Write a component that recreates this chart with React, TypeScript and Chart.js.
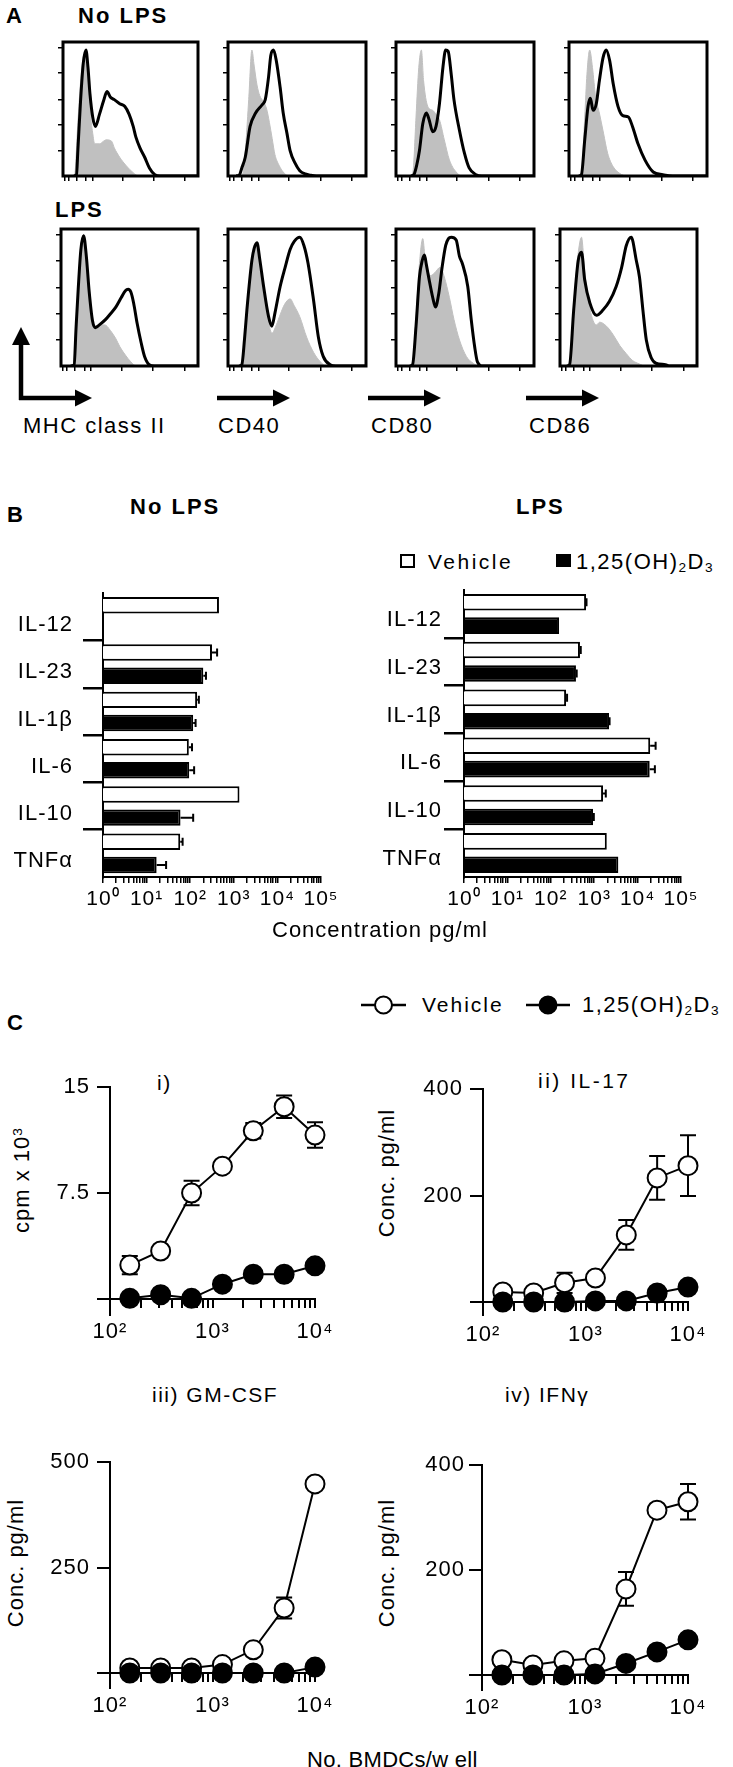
import React, { useEffect, useRef } from 'react';
import { Chart, registerables } from 'chart.js';

Chart.register(...registerables);

const FONT = "'Liberation Sans', Arial, Helvetica, sans-serif";
Chart.defaults.font.family = FONT;
Chart.defaults.color = '#000';
const GRAY = '#c0c0c0';

// ---------------- Panel A: flow cytometry histograms ----------------
// points are [fluorescence (display units 0-100), % of max]
const HIST_X_TICKS = [1, 4, 10, 17, 22, 44, 67, 90];
const HIST_Y_TICKS = [19, 38, 57, 77, 96];

const noLpsMhcLine = [[8,0],[10,1],[11,19],[13,56],[15,84],[17,94],[18.5,81],[20,61],[22,44],[24,37],[27,46],[30,56],[32.6,63],[35,59],[38,57],[42,54],[45.7,52],[49,46],[52,37],[54,29],[57,21],[60.5,14],[64,6],[68,1],[72,0],[100,0]];
const noLpsMhcIso = [[7,0],[8.6,1],[11,40],[13,70],[15,88],[17,94],[18.5,75],[20,50],[22,32],[23.5,24],[27,24],[30,26],[32,27],[36,26],[38,21],[42,14],[47,7.5],[52,2.5],[56,0],[100,0]];
const noLpsCd40Line = [[6,0],[8.4,1],[10,6],[12.5,14],[16,37],[20,47],[24.6,53],[27,57],[29.4,74],[31,90],[33,94],[35,86],[37.8,66],[40,47],[42.7,32],[45,19],[48.7,9.4],[52,4],[56,1.5],[60,0.5],[64,0],[100,0]];
const noLpsCd40Iso = [[9,0],[11,3],[13,25],[15,57],[17.3,94],[19,82],[21,68],[23,60],[26,55],[28,50],[30,40],[32,28],[34,16],[37,8],[40,3],[44,0],[100,0]];
const noLpsCd80Line = [[11,0],[13,1],[15,8],[17,19],[19.4,39],[22,47],[24,42],[26.6,33],[29,37],[31.5,54],[34,81],[36,94],[37.8,93],[40,76],[42,57],[46,34],[49.6,17],[53,6],[58,1],[62,0],[100,0]];
const noLpsCd80Iso = [[11,0],[12.5,5],[14.5,44],[16.5,81],[18.4,94],[20,71],[23,52],[26.6,49],[29,46],[31.5,42],[35,27],[38.7,12],[43.6,3],[48,0],[100,0]];
const noLpsCd86Line = [[7,0],[9,1],[11.4,27],[13.8,52],[15.5,58],[17.4,49],[19.8,54],[22,71],[24.6,88],[27,94],[29.5,86],[32,69],[35.5,52],[39,45],[43,44],[46,37],[50,24],[55,12],[61,3],[68,1],[75,0],[100,0]];
const noLpsCd86Iso = [[7,0],[9,1],[11.4,44],[13,76],[15,94],[17,81],[19.3,59],[22,47],[25,32],[28,17],[32,7],[36.7,2],[42,0],[100,0]];

const lpsMhcLine = [[7,0],[9.6,1],[11,28],[12.5,55],[14.5,85],[16.5,95],[18.5,80],[20.5,55],[23,33],[25,28],[28,30],[32.6,34],[36,38],[40,43],[44,50],[47,55],[49,56],[51,54],[53,46],[55.6,31],[58.5,17],[61,7],[64.4,1],[68,0],[100,0]];
const lpsMhcIso = [[7,0],[9,1],[11,30],[12.5,58],[14.5,87],[16.5,96],[18.5,78],[20.5,52],[23,32],[25,29],[28,30],[32,30],[36,26],[40,20],[43,14],[47,8],[51,3],[55,0],[100,0]];
const lpsCd40Line = [[8,0],[10,1],[12,20],[13.7,41],[17.3,77],[19,86],[21,90],[23,78],[25.8,58],[29.4,36],[31.8,29],[34,38.6],[37.8,58],[41.4,72],[45,85],[48,91],[52,94],[55,88],[58,75],[62,48],[65.5,21],[69,7],[74,1],[78,0],[100,0]];
const lpsCd40Iso = [[8,0],[10,2],[12,22],[13.7,43],[17.3,79],[19,88],[21,90],[23,76],[25.8,54],[29.4,32],[31.8,24],[35,30],[38,38],[41,45],[45,49],[48,44],[52,36],[57,21],[62,10],[67,3],[71,0],[100,0]];
const lpsCd80Line = [[10,0],[12,1],[14.5,29],[17,65],[19,77],[20.6,81],[22,74],[24,63],[26.6,50],[28.6,43],[31,53],[33.4,72],[36,88],[38,93],[40,94],[43.6,92],[46,80],[48,75],[52,58],[54.5,34],[57,14],[59,3],[63,0],[100,0]];
const lpsCd80Iso = [[10,0],[12,2],[14.5,35],[17,75],[19.4,93],[21,80],[22.5,72],[25,66],[28,68],[32,72],[35,65],[38.7,50],[42,34],[46,19],[51,7],[56,2],[60,0],[100,0]];
const lpsCd86Line = [[5,0],[7,1],[10,41],[13.3,77],[15.7,83],[18,63],[21.8,46],[26.6,37],[31.5,41],[36,47],[41,58],[45,72],[48.4,88],[52,94],[55.7,77],[58,65],[60.5,41],[63,19],[66.6,6],[70,2],[77,1],[80,0],[100,0]];
const lpsCd86Iso = [[5,0],[7,2],[10,45],[13,80],[15.7,94],[18,70],[21.8,42],[26.6,30],[29,32],[34,29],[38.7,23],[43.6,15],[48.4,9],[53,4],[58,1.5],[62,0],[100,0]];

const MARKER_LABELS = ['MHC class II', 'CD40', 'CD80', 'CD86'];

// ---------------- Panel B: cytokines (pg/ml) ----------------
const CYTOKINES = ['IL-12', 'IL-23', 'IL-1β', 'IL-6', 'IL-10', 'TNFα'];
const noLpsVehicle = [457, 316, 144, 93, 1350, 59];
const noLpsVehicleErr = [0, 98, 14, 17, 0, 8];
const noLpsD3 = [null, 200, 117, 95, 60, 17];
const noLpsD3Err = [0, 30, 16, 28, 57, 11];
const lpsVehicle = [650, 470, 225, 19500, 1600, 1950];
const lpsVehicleErr = [15, 20, 12, 6500, 250, 0];
const lpsD3 = [155, 380, 2200, 19000, 940, 3600];
const lpsD3Err = [0, 15, 60, 6000, 40, 0];
const BAR_X_LABELS = ['10⁰', '10¹', '10²', '10³', '10⁴', '10⁵'];

// ---------------- Panel C: dose response ----------------
const DOSES = [156, 312, 625, 1250, 2500, 5000, 10000];
const DOSE_X_LABELS = ['10²', '10³', '10⁴'];
const prolifVehicle = [2.4, 3.4, 7.5, 9.4, 11.9, 13.6, 11.6];
const prolifVehicleErr = [0.65, 0, 0.87, 0, 0.55, 0.8, 0.9];
const prolifD3 = [0.05, 0.3, 0.05, 1.05, 1.75, 1.75, 2.35];
const il17Vehicle = [19, 17, 36, 45, 126, 233, 256];
const il17VehicleErr = [0, 0, 19, 0, 28, 41, 57];
const il17D3 = [0, 0, 0, 2, 2, 17, 28];
const gmcsfVehicle = [12, 12, 12, 20, 55, 154, 448];
const gmcsfVehicleErr = [0, 0, 0, 0, 0, 25, 0];
const gmcsfD3 = [0, 0, 0, 0, 0, 0, 14];
const ifngVehicle = [29, 19, 27, 32, 164, 314, 330];
const ifngVehicleErr = [0, 0, 0, 0, 32, 0, 34];
const ifngD3 = [0, 0, 0, 2, 22, 44, 67];

// ---------------- helpers ----------------
type Rect = { left: number; top: number; width: number; height: number };

function ChartCanvas({ rect, build }: { rect: Rect; build: () => any }) {
  const ref = useRef<HTMLCanvasElement | null>(null);
  useEffect(() => {
    if (!ref.current) return;
    const chart = new Chart(ref.current, build());
    return () => chart.destroy();
  }, []);
  return (
    <canvas
      ref={ref}
      width={rect.width}
      height={rect.height}
      style={{ position: 'absolute', left: rect.left, top: rect.top, width: rect.width, height: rect.height }}
    />
  );
}

const spacingPlugin = {
  id: 'textSpacing',
  beforeDraw(chart: any) {
    const sp = chart.options.plugins?.textSpacing?.px;
    if (sp && 'letterSpacing' in chart.ctx) (chart.ctx as any).letterSpacing = sp + 'px';
  },
};

const boxBorderPlugin = {
  id: 'boxBorder',
  afterDraw(chart: any) {
    const { ctx, chartArea: a } = chart;
    ctx.save();
    ctx.strokeStyle = '#000';
    ctx.lineWidth = 3;
    ctx.strokeRect(a.left, a.top, a.right - a.left, a.bottom - a.top);
    ctx.restore();
  },
};

const barErrorPlugin = {
  id: 'barErrors',
  afterDatasetsDraw(chart: any) {
    const ctx = chart.ctx;
    const xs = chart.scales.x;
    chart.data.datasets.forEach((ds: any, di: number) => {
      const meta = chart.getDatasetMeta(di);
      meta.data.forEach((el: any, i: number) => {
        const v = ds.data[i];
        const e = ds.errors ? ds.errors[i] : 0;
        if (v == null || !e) return;
        const x0 = xs.getPixelForValue(v);
        const x1 = xs.getPixelForValue(v + e);
        ctx.save();
        ctx.strokeStyle = '#000';
        ctx.lineWidth = 2;
        ctx.beginPath();
        ctx.moveTo(x0, el.y);
        ctx.lineTo(x1, el.y);
        ctx.moveTo(x1, el.y - 4);
        ctx.lineTo(x1, el.y + 4);
        ctx.stroke();
        ctx.restore();
      });
    });
  },
};

const lineErrorPlugin = {
  id: 'lineErrors',
  beforeDatasetsDraw(chart: any) {
    const ctx = chart.ctx;
    const ys = chart.scales.y;
    chart.data.datasets.forEach((ds: any, di: number) => {
      const meta = chart.getDatasetMeta(di);
      meta.data.forEach((el: any, i: number) => {
        const e = ds.errors ? ds.errors[i] : 0;
        if (!e) return;
        const v = ds.data[i].y;
        const yt = ys.getPixelForValue(v + e);
        const yb = ys.getPixelForValue(v - e);
        ctx.save();
        ctx.strokeStyle = '#000';
        ctx.lineWidth = 2;
        ctx.beginPath();
        ctx.moveTo(el.x, yt);
        ctx.lineTo(el.x, yb);
        ctx.moveTo(el.x - 8, yt);
        ctx.lineTo(el.x + 8, yt);
        ctx.moveTo(el.x - 8, yb);
        ctx.lineTo(el.x + 8, yb);
        ctx.stroke();
        ctx.restore();
      });
    });
  },
};

function histConfig(line: number[][], iso: number[][]) {
  const pts = (arr: number[][]) => arr.map(([x, y]) => ({ x, y }));
  const axisGrid = { drawOnChartArea: false, tickLength: 5, color: '#000', lineWidth: 1.5 };
  return {
    type: 'line',
    data: {
      datasets: [
        { data: pts(line), borderColor: '#000', borderWidth: 3, pointRadius: 0, fill: false, cubicInterpolationMode: 'monotone', order: 0 },
        { data: pts(iso), borderColor: GRAY, borderWidth: 1, backgroundColor: GRAY, pointRadius: 0, fill: 'origin', cubicInterpolationMode: 'monotone', order: 1 },
      ],
    },
    options: {
      animation: false,
      responsive: false,
      events: [],
      layout: { padding: { top: 3, right: 3, left: 0, bottom: 0 } },
      plugins: { legend: { display: false }, tooltip: { enabled: false } },
      scales: {
        x: {
          type: 'linear', min: 0, max: 100,
          afterBuildTicks: (s: any) => { s.ticks = HIST_X_TICKS.map((v) => ({ value: v })); },
          afterFit: (s: any) => { s.height = 6; },
          ticks: { display: false }, grid: axisGrid, border: { display: false },
        },
        y: {
          type: 'linear', min: 0, max: 100,
          afterBuildTicks: (s: any) => { s.ticks = HIST_Y_TICKS.map((v) => ({ value: v })); },
          afterFit: (s: any) => { s.width = 6; },
          ticks: { display: false }, grid: axisGrid, border: { display: false },
        },
      },
    },
    plugins: [boxBorderPlugin],
  };
}

function barConfig(veh: any[], vehErr: number[], d3: any[], d3Err: number[], yWidth: number, labelPad: number, labelOffset: number, padding: any) {
  const barTicks: { value: number }[] = [];
  for (let n = 0; n < 5; n++) for (let m = 1; m < 10; m++) barTicks.push({ value: m * Math.pow(10, n) });
  barTicks.push({ value: 100000 });
  return {
    type: 'bar',
    data: {
      labels: CYTOKINES,
      datasets: [
        { label: 'Vehicle', data: veh, errors: vehErr, backgroundColor: '#fff', borderColor: '#000', borderWidth: 2, categoryPercentage: 0.98, barPercentage: 0.71 },
        { label: '1,25(OH)2D3', data: d3, errors: d3Err, backgroundColor: '#000', borderColor: '#000', borderWidth: 2, categoryPercentage: 0.98, barPercentage: 0.71 },
      ],
    },
    options: {
      indexAxis: 'y',
      animation: false,
      responsive: false,
      events: [],
      layout: { padding },
      plugins: { legend: { display: false }, tooltip: { enabled: false }, textSpacing: { px: 1 } },
      scales: {
        x: {
          type: 'logarithmic', min: 1, max: 100000,
          afterBuildTicks: (s: any) => { s.ticks = barTicks.map((t) => ({ ...t })); },
          afterFit: (s: any) => { s.height = 40; },
          ticks: {
            autoSkip: false, maxRotation: 0, minRotation: 0, padding: 4, font: { size: 21 }, color: '#000',
            callback: (v: any) => {
              const l = Math.log10(Number(v));
              return Math.abs(l - Math.round(l)) < 1e-9 ? BAR_X_LABELS[Math.round(l)] : '';
            },
          },
          grid: { drawOnChartArea: false, tickLength: 6, color: '#000', lineWidth: 1.5 },
          border: { color: '#000', width: 2 },
        },
        y: {
          afterFit: (s: any) => { s.width = yWidth; },
          ticks: { font: { size: 22 }, padding: labelPad, labelOffset, color: '#000' },
          grid: {
            drawOnChartArea: false, tickLength: 20, lineWidth: 2.5,
            color: (c: any) => (typeof c.index === 'number' && c.index > 0 ? '#000' : 'rgba(0,0,0,0)'),
          },
          border: { color: '#000', width: 2 },
        },
      },
    },
    plugins: [spacingPlugin, barErrorPlugin],
  };
}

function lineConfig(
  veh: number[], vehErr: number[], d3: number[],
  yMin: number, yMax: number, yTicks: number[], yLabels: string[],
  yWidth: number, yPad: number, padding: any,
) {
  const xTicks: { value: number }[] = [];
  for (let n = 2; n < 4; n++) for (let m = 1; m < 10; m++) xTicks.push({ value: m * Math.pow(10, n) });
  xTicks.push({ value: 10000 });
  const pts = (arr: number[]) => DOSES.map((x, i) => ({ x, y: arr[i] }));
  return {
    type: 'line',
    data: {
      datasets: [
        {
          label: 'Vehicle', data: pts(veh), errors: vehErr, borderColor: '#000', borderWidth: 2,
          pointRadius: 9.5, pointBorderWidth: 2, pointBackgroundColor: '#fff', pointBorderColor: '#000',
          clip: false, order: 1, tension: 0,
        },
        {
          label: '1,25(OH)2D3', data: pts(d3), borderColor: '#000', borderWidth: 2,
          pointRadius: 9.5, pointBorderWidth: 2, pointBackgroundColor: '#000', pointBorderColor: '#000',
          clip: false, order: 0, tension: 0,
        },
      ],
    },
    options: {
      animation: false,
      responsive: false,
      events: [],
      layout: { padding },
      plugins: { legend: { display: false }, tooltip: { enabled: false }, textSpacing: { px: 1 } },
      scales: {
        x: {
          type: 'logarithmic', min: 100, max: 10000, position: { y: 0 },
          afterBuildTicks: (s: any) => { s.ticks = xTicks.map((t) => ({ ...t })); },
          ticks: {
            autoSkip: false, maxRotation: 0, minRotation: 0, padding: 12, font: { size: 22 }, color: '#000',
            callback: (v: any) => {
              const l = Math.log10(Number(v));
              return Math.abs(l - Math.round(l)) < 1e-9 ? DOSE_X_LABELS[Math.round(l) - 2] : '';
            },
          },
          grid: { drawOnChartArea: false, tickLength: 8, color: '#000', lineWidth: 2 },
          border: { color: '#000', width: 2 },
        },
        y: {
          type: 'linear', min: yMin, max: yMax,
          afterBuildTicks: (s: any) => { s.ticks = yTicks.map((v) => ({ value: v })); },
          afterFit: (s: any) => { s.width = yWidth; },
          ticks: {
            padding: yPad, font: { size: 22 }, color: '#000',
            callback: (v: any) => {
              const i = yTicks.indexOf(Number(v));
              return i >= 0 ? yLabels[i] : '';
            },
          },
          grid: { drawOnChartArea: false, tickLength: 13, color: '#000', lineWidth: 2 },
          border: { color: '#000', width: 2 },
        },
      },
    },
    plugins: [spacingPlugin, lineErrorPlugin],
  };
}

// ---------------- text helpers ----------------
function Txt({ x, capTop, size, bold, spacing, children }: any) {
  return (
    <div
      style={{
        position: 'absolute', left: x, top: capTop - 0.13 * size, fontSize: size, lineHeight: 1,
        fontWeight: bold ? 700 : 400, letterSpacing: spacing || 0, whiteSpace: 'nowrap', fontFamily: FONT, color: '#000',
      }}
    >
      {children}
    </div>
  );
}

function VTxt({ cx, cy, size, spacing, children }: any) {
  return (
    <div
      style={{
        position: 'absolute', left: cx, top: cy, fontSize: size, lineHeight: 1, whiteSpace: 'nowrap',
        letterSpacing: spacing || 0, transform: 'translate(-50%,-50%) rotate(-90deg)', fontFamily: FONT, color: '#000',
      }}
    >
      {children}
    </div>
  );
}

const subStyle: any = { fontSize: '0.62em', verticalAlign: '-0.22em', lineHeight: 0 };
const supStyle: any = { fontSize: '0.62em', verticalAlign: '0.5em', lineHeight: 0 };

function D3Label() {
  return (
    <span>
      1,25(OH)<span style={subStyle}>2</span>D<span style={subStyle}>3</span>
    </span>
  );
}

// ---------------- layout ----------------
const HIST_ROW1 = { top: 42, bottom: 176, cols: [[63, 198], [228, 366], [396, 534], [569, 707]] };
const HIST_ROW2 = { top: 229, bottom: 366, cols: [[61, 198], [228, 366], [396, 534], [560, 697]] };
const HIST_NO_LPS = [[noLpsMhcLine, noLpsMhcIso], [noLpsCd40Line, noLpsCd40Iso], [noLpsCd80Line, noLpsCd80Iso], [noLpsCd86Line, noLpsCd86Iso]];
const HIST_LPS = [[lpsMhcLine, lpsMhcIso], [lpsCd40Line, lpsCd40Iso], [lpsCd80Line, lpsCd80Iso], [lpsCd86Line, lpsCd86Iso]];

function histRect(l: number, r: number, t: number, b: number): Rect {
  return { left: l - 6, top: t - 3, width: r - l + 9, height: b - t + 9 };
}

const MARKER_X = [23, 218, 371, 529];
const ARROWS = [[217, 290], [368, 441], [526, 599]];

export default function App() {
  return (
    <div
      style={{
        position: 'absolute', left: 0, top: 0, width: 733, height: 1767, overflow: 'hidden',
        background: '#fff', fontFamily: FONT, color: '#000',
      }}
    >
      <svg width={733} height={1767} style={{ position: 'absolute', left: 0, top: 0 }}>
        {/* Panel A axis arrows */}
        <path d="M21 400 L21 343" stroke="#000" strokeWidth={4.5} fill="none" />
        <polygon points="12,345 30,345 21,327" fill="#000" />
        <path d="M19 398 L77 398" stroke="#000" strokeWidth={4.5} fill="none" />
        <polygon points="75,389.5 75,406.5 92,398" fill="#000" />
        {ARROWS.map(([a, b], i) => (
          <g key={i}>
            <path d={`M${a} 398 L${b - 15} 398`} stroke="#000" strokeWidth={4.5} fill="none" />
            <polygon points={`${b - 17},389.5 ${b - 17},406.5 ${b},398`} fill="#000" />
          </g>
        ))}
        {/* Panel B legend boxes */}
        <rect x={401} y={555} width={13} height={12} fill="#fff" stroke="#000" strokeWidth={2} />
        <rect x={556} y={554} width={15} height={13} fill="#000" />
        {/* Panel C legend */}
        <path d="M361 1005 L406 1005" stroke="#000" strokeWidth={2.5} />
        <circle cx={383.5} cy={1005} r={8.5} fill="#fff" stroke="#000" strokeWidth={2} />
        <path d="M526 1005 L570 1005" stroke="#000" strokeWidth={2.5} />
        <circle cx={548} cy={1005} r={8.5} fill="#000" stroke="#000" strokeWidth={2} />
      </svg>

      {/* Panel A */}
      <Txt x={6} capTop={8} size={22} bold>A</Txt>
      <Txt x={78} capTop={8} size={22} bold spacing={2}>No LPS</Txt>
      <Txt x={55} capTop={202} size={22} bold spacing={2}>LPS</Txt>
      {MARKER_LABELS.map((m, i) => (
        <Txt key={m} x={MARKER_X[i]} capTop={418} size={22} spacing={1.5}>{m}</Txt>
      ))}
      {HIST_ROW1.cols.map(([l, r], i) => (
        <ChartCanvas key={'h1' + i} rect={histRect(l, r, HIST_ROW1.top, HIST_ROW1.bottom)} build={() => histConfig(HIST_NO_LPS[i][0], HIST_NO_LPS[i][1])} />
      ))}
      {HIST_ROW2.cols.map(([l, r], i) => (
        <ChartCanvas key={'h2' + i} rect={histRect(l, r, HIST_ROW2.top, HIST_ROW2.bottom)} build={() => histConfig(HIST_LPS[i][0], HIST_LPS[i][1])} />
      ))}

      {/* Panel B */}
      <Txt x={7} capTop={507} size={22} bold>B</Txt>
      <Txt x={130} capTop={499} size={22} bold spacing={2}>No LPS</Txt>
      <Txt x={516} capTop={499} size={22} bold spacing={2}>LPS</Txt>
      <Txt x={428} capTop={554} size={21} spacing={2.5}>Vehicle</Txt>
      <Txt x={576} capTop={554} size={22} spacing={1.5}><D3Label /></Txt>
      <ChartCanvas
        rect={{ left: 0, top: 570, width: 360, height: 357 }}
        build={() => barConfig(noLpsVehicle, noLpsVehicleErr, noLpsD3, noLpsD3Err, 103, 10, 8, { top: 13, right: 39, left: 0, bottom: 10 })}
      />
      <ChartCanvas
        rect={{ left: 366, top: 570, width: 367, height: 357 }}
        build={() => barConfig(lpsVehicle, lpsVehicleErr, lpsD3, lpsD3Err, 98, 2, 6, { top: 20, right: 52, left: 0, bottom: 10 })}
      />
      <Txt x={272} capTop={922} size={22} spacing={1}>Concentration pg/ml</Txt>

      {/* Panel C */}
      <Txt x={7} capTop={1015} size={22} bold>C</Txt>
      <Txt x={422} capTop={997} size={21} spacing={2}>Vehicle</Txt>
      <Txt x={582} capTop={997} size={22} spacing={1.5}><D3Label /></Txt>

      <Txt x={157} capTop={1075} size={21} spacing={1.5}>i)</Txt>
      <Txt x={538} capTop={1073} size={21} spacing={2.5}>ii) IL-17</Txt>
      <Txt x={152} capTop={1387} size={21} spacing={1.5}>iii) GM-CSF</Txt>
      <Txt x={505} capTop={1387} size={21} spacing={1.5}>iv) IFNγ</Txt>

      <VTxt cx={22} cy={1180} size={22} spacing={1}>cpm x 10<span style={supStyle}>3</span></VTxt>
      <VTxt cx={387} cy={1173} size={22} spacing={1}>Conc. pg/ml</VTxt>
      <VTxt cx={16} cy={1563} size={22} spacing={1}>Conc. pg/ml</VTxt>
      <VTxt cx={387} cy={1563} size={22} spacing={1}>Conc. pg/ml</VTxt>

      <ChartCanvas
        rect={{ left: 0, top: 1060, width: 360, height: 300 }}
        build={() => lineConfig(prolifVehicle, prolifVehicleErr, prolifD3, -1.13, 15, [0, 7.5, 15], ['', '7.5', '15'], 110, 7, { top: 27, right: 45, left: 0, bottom: 45 })}
      />
      <ChartCanvas
        rect={{ left: 366, top: 1060, width: 367, height: 300 }}
        build={() => lineConfig(il17Vehicle, il17VehicleErr, il17D3, -24.4, 400, [0, 200, 400], ['', '200', '400'], 117, 7, { top: 29, right: 45, left: 0, bottom: 45 })}
      />
      <ChartCanvas
        rect={{ left: 0, top: 1430, width: 360, height: 310 }}
        build={() => lineConfig(gmcsfVehicle, gmcsfVehicleErr, gmcsfD3, -35.5, 500, [0, 250, 500], ['', '250', '500'], 110, 7, { top: 32, right: 45, left: 0, bottom: 52 })}
      />
      <ChartCanvas
        rect={{ left: 366, top: 1430, width: 367, height: 310 }}
        build={() => lineConfig(ifngVehicle, ifngVehicleErr, ifngD3, -28.6, 400, [0, 200, 400], ['', '200', '400'], 116, 4, { top: 35, right: 45, left: 0, bottom: 50 })}
      />

      <Txt x={307} capTop={1752} size={22} spacing={0.3}>No. BMDCs/w ell</Txt>
    </div>
  );
}
